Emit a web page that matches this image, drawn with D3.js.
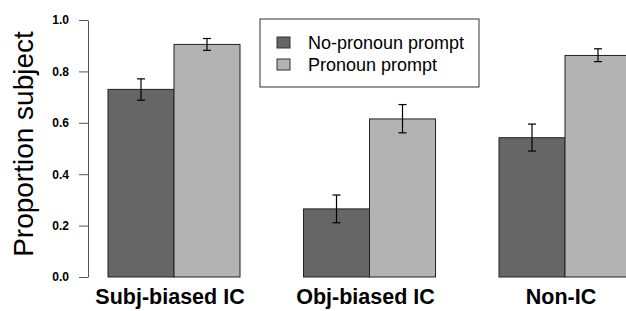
<!DOCTYPE html>
<html>
<head>
<meta charset="utf-8">
<script src="https://cdn.jsdelivr.net/npm/d3@7"></script>
<style>
  body { margin: 0; background: #fff; }
</style>
</head>
<body>
<div id="chart"></div>
<script>
// data
const categories = ["Subj-biased IC", "Obj-biased IC", "Non-IC"];
const seriesNames = ["No-pronoun prompt", "Pronoun prompt"];
const noPronoun = [0.73, 0.265, 0.542];
const noPronounLo = [0.688, 0.211, 0.49];
const noPronounHi = [0.771, 0.319, 0.595];
const pronoun = [0.905, 0.615, 0.862];
const pronounLo = [0.882, 0.561, 0.838];
const pronounHi = [0.928, 0.671, 0.888];
const yTicks = [0, 0.2, 0.4, 0.6, 0.8, 1.0];

const colors = ["#666666", "#b3b3b3"];
const font = "'Liberation Sans', Arial, Helvetica, sans-serif";

// set the dimensions
const width = 626, height = 311;
const svg = d3.select("#chart")
  .append("svg")
    .attr("width", width)
    .attr("height", height)
    .attr("font-family", font)
    .style("display", "block");

// y scale
const y = d3.scaleLinear()
  .domain([0, 1])
  .range([277, 20]);

// x scale: groups
const x = d3.scaleBand()
  .domain(categories)
  .range([88, 651])
  .paddingInner(0.3248)
  .paddingOuter(0.1023);

const xs = d3.scaleBand()
  .domain(seriesNames)
  .range([0, x.bandwidth()]);

// y axis
const yAxis = svg.append("g")
  .attr("transform", "translate(88,0)")
  .call(d3.axisLeft(y).tickValues(yTicks).tickFormat(d3.format(".1f")).tickSize(9).tickSizeOuter(0));
yAxis.attr("font-family", font);
yAxis.select(".domain").attr("stroke", "#555");
yAxis.selectAll(".tick line").attr("stroke", "#555");
yAxis.selectAll("text")
  .attr("x", -19)
  .attr("font-size", "12px")
  .attr("font-weight", "bold")
  .attr("fill", "#000");

// y label
svg.append("text")
  .attr("transform", "translate(33,144)rotate(-90)")
  .attr("text-anchor", "middle")
  .attr("font-size", "28px")
  .text("Proportion subject");

// bars
const rows = [];
categories.forEach((c, i) => {
  rows.push({cat: c, s: 0, v: noPronoun[i], lo: noPronounLo[i], hi: noPronounHi[i]});
  rows.push({cat: c, s: 1, v: pronoun[i], lo: pronounLo[i], hi: pronounHi[i]});
});

svg.selectAll("rect.bar")
  .data(rows)
  .enter()
  .append("rect")
    .attr("class", "bar")
    .attr("x", d => x(d.cat) + xs(seriesNames[d.s]))
    .attr("y", d => y(d.v))
    .attr("width", xs.bandwidth())
    .attr("height", d => y(0) - y(d.v))
    .attr("fill", d => colors[d.s])
    .attr("stroke", "#222")
    .attr("stroke-width", 1);

// error bars
const eb = svg.selectAll("g.err")
  .data(rows)
  .enter()
  .append("g")
    .attr("class", "err")
    .attr("stroke", "#000")
    .attr("stroke-width", 1.2);
const cx = d => x(d.cat) + xs(seriesNames[d.s]) + xs.bandwidth() / 2;
eb.append("line")
  .attr("x1", cx).attr("x2", cx)
  .attr("y1", d => y(d.lo)).attr("y2", d => y(d.hi));
eb.append("line")
  .attr("x1", d => cx(d) - 4).attr("x2", d => cx(d) + 4)
  .attr("y1", d => y(d.lo)).attr("y2", d => y(d.lo));
eb.append("line")
  .attr("x1", d => cx(d) - 4).attr("x2", d => cx(d) + 4)
  .attr("y1", d => y(d.hi)).attr("y2", d => y(d.hi));

// category labels
svg.selectAll("text.cat")
  .data(categories)
  .enter()
  .append("text")
    .attr("class", "cat")
    .attr("x", d => x(d) + x.bandwidth() / 2 - 4)
    .attr("y", 304)
    .attr("text-anchor", "middle")
    .attr("font-size", "21.5px")
    .attr("font-weight", "bold")
    .text(d => d);

// legend
const legend = svg.append("g").attr("transform", "translate(260,19)");
legend.append("rect")
  .attr("width", 219).attr("height", 68)
  .attr("fill", "#fff").attr("stroke", "#333");
seriesNames.forEach((n, i) => {
  legend.append("rect")
    .attr("x", 17).attr("y", 18 + i * 22)
    .attr("width", 13).attr("height", 11)
    .attr("fill", colors[i]).attr("stroke", "#333");
  legend.append("text")
    .attr("x", 48).attr("y", 30 + i * 22)
    .attr("font-size", "18px")
    .text(n);
});
</script>
</body>
</html>
